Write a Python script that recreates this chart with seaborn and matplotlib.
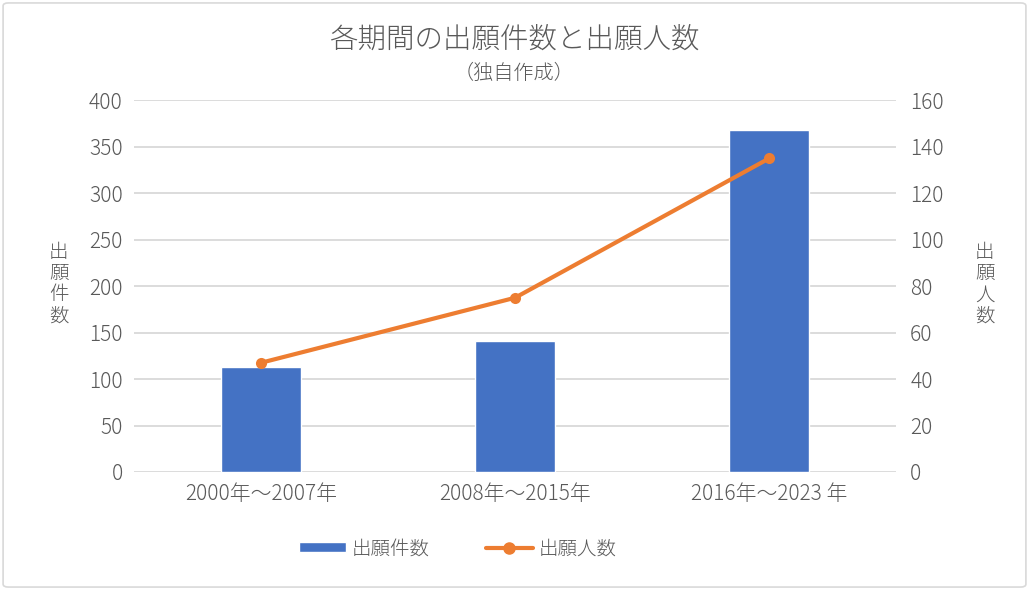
import numpy as np
import pandas as pd
import seaborn as sns
import matplotlib.pyplot as plt
from matplotlib.lines import Line2D
from matplotlib.patches import Patch, FancyBboxPatch

periods = ["2000年～2007年", "2008年～2015年", "2016年～2023 年"]
applications = [113, 141, 368]
applicants = [47, 75, 135]

sns.set_theme(style="white")
plt.rcParams['font.family'] = ['Noto Sans CJK JP', 'DejaVu Sans']
plt.rcParams['font.weight'] = 'light'

gray = "#595959"
bar_color = "#4472C4"
line_color = "#ED7D31"

df = pd.DataFrame({"period": periods, "件数": applications, "人数": applicants})

fig = plt.figure(figsize=(10.29, 5.90), dpi=100)
ax = fig.add_axes([0.130, 0.200, 0.741, 0.630])

sns.barplot(data=df, x="period", y="件数", color=bar_color, width=0.315,
            saturation=1, ax=ax, zorder=3)
ax.set_xlim(-0.5, 2.5)
ax.set_ylim(0, 400)
ax.set_yticks(np.arange(0, 401, 50))
ax.yaxis.grid(True, color="#D9D9D9", linewidth=1.3, zorder=0)
ax.set_axisbelow(True)
for s in ax.spines.values():
    s.set_visible(False)
ax.set_xlabel("")
ax.set_ylabel("")
ax.tick_params(axis="both", length=0, labelsize=15, labelcolor=gray, pad=8)

ax2 = ax.twinx()
sns.lineplot(x=np.arange(3), y=applicants, color=line_color, linewidth=3,
             marker="o", markersize=8, markeredgewidth=0, ax=ax2, zorder=4)
ax2.set_ylim(0, 160)
ax2.set_yticks(np.arange(0, 161, 20))
for s in ax2.spines.values():
    s.set_visible(False)
ax2.tick_params(axis="y", length=0, labelsize=15, labelcolor=gray, pad=10)

fig.text(0.057, 0.518, "出\n願\n件\n数", ha="center", va="center", fontsize=14,
         color=gray, linespacing=1.0)
fig.text(0.957, 0.518, "出\n願\n人\n数", ha="center", va="center", fontsize=14,
         color=gray, linespacing=1.0)

fig.text(0.500, 0.933, "各期間の出願件数と出願人数", ha="center", va="center",
         fontsize=20.5, color=gray)
fig.text(0.500, 0.875, "（独自作成）", ha="center", va="center",
         fontsize=14.5, color=gray)

handles = [Patch(facecolor=bar_color, label="出願件数"),
           Line2D([0], [0], color=line_color, linewidth=3, marker="o",
                  markersize=8, label="出願人数")]
fig.legend(handles=handles, loc="center", bbox_to_anchor=(0.445, 0.070), ncol=2,
           frameon=False, fontsize=14, labelcolor=gray, handlelength=2.4,
           handleheight=0.45, columnspacing=2.9, handletextpad=0.3)

border = FancyBboxPatch((0.003, 0.005), 0.994, 0.99, boxstyle="round,pad=0,rounding_size=0.005",
                        transform=fig.transFigure, facecolor="none",
                        edgecolor="#D9D9D9", linewidth=1.2)
fig.patches.append(border)

fig.savefig("out.png", dpi=100)
